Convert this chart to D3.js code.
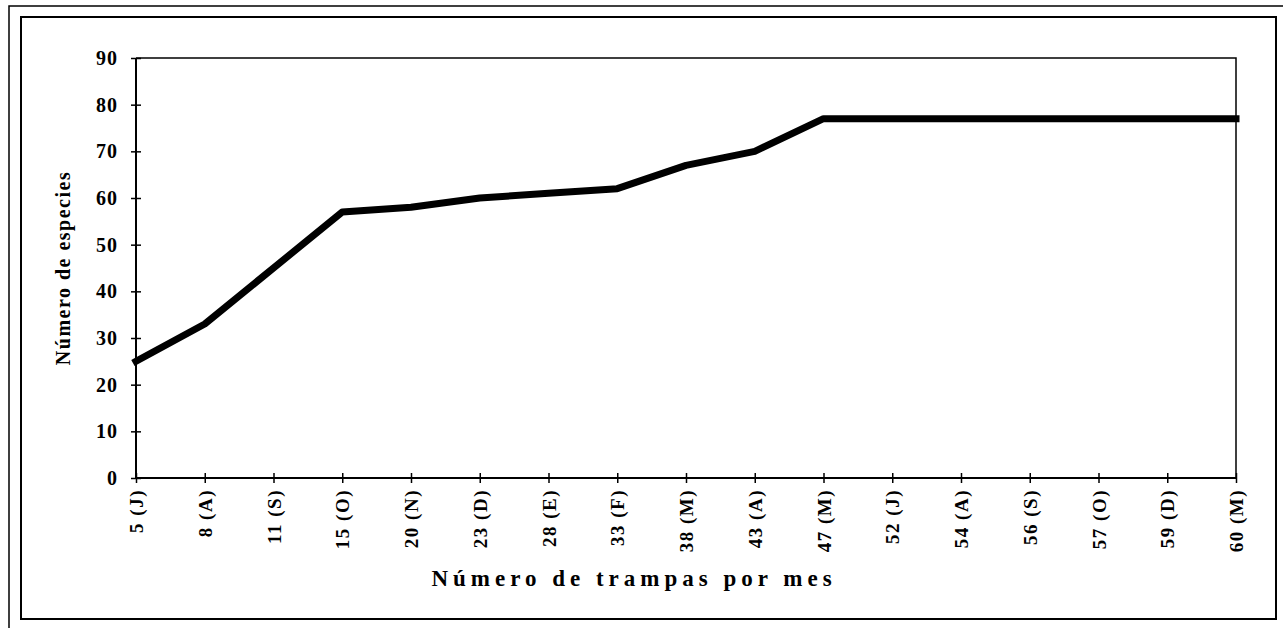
<!DOCTYPE html>
<html>
<head>
<meta charset="utf-8">
<script src="https://cdn.jsdelivr.net/npm/d3@7"></script>
<style>
    body { margin: 0; background: #fff; }
    text { font-family: "Liberation Serif", "Times New Roman", serif; font-weight: bold; fill: #000; }
</style>
</head>
<body>
<svg id="chart" width="1283" height="628"></svg>
<script>
// trampas acumuladas por mes (eje x)
var meses = ["5 (J)", "8 (A)", "11 (S)", "15 (O)", "20 (N)", "23 (D)", "28 (E)", "33 (F)",
    "38 (M)", "43 (A)", "47 (M)", "52 (J)", "54 (A)", "56 (S)", "57 (O)", "59 (D)", "60 (M)"];
// numero de especies acumuladas
var especies = [25, 33, 45, 57, 58, 60, 61, 62, 67, 70, 77, 77, 77, 77, 77, 77, 77];
var yTicks = [0, 10, 20, 30, 40, 50, 60, 70, 80, 90];

var svg = d3.select("#chart");

// plot box (no usar "top": choca con window.top)
var mLeft = 136, mRight = 1236, mTop = 58, mBottom = 478;

var x = d3.scalePoint().domain(meses).range([mLeft, mRight]);
var y = d3.scaleLinear().domain([0, 90]).range([mBottom, mTop]);

// marcos del scan
svg.append("rect")
    .attr("x", 9).attr("y", 6)
    .attr("width", 1300).attr("height", 640)
    .attr("fill", "none").attr("stroke", "#000").attr("stroke-width", 1.5);
svg.append("rect")
    .attr("x", 21).attr("y", 17)
    .attr("width", 1255).attr("height", 602)
    .attr("fill", "none").attr("stroke", "#000").attr("stroke-width", 2);

// caja del grafico (arriba y derecha)
svg.append("path")
    .attr("d", `M${mLeft},${mTop}H${mRight}V${mBottom}`)
    .attr("fill", "none").attr("stroke", "#000").attr("stroke-width", 1.5);

var gY = svg.append("g")
    .attr("transform", `translate(${mLeft},0)`)
    .call(d3.axisLeft(y).tickValues(yTicks).tickSize(5).tickPadding(13));
gY.selectAll(".tick line").attr("x1", 5).attr("x2", -5).attr("stroke-width", 1.5);
gY.select(".domain").attr("stroke-width", 2).attr("d", `M0,${mBottom}V${mTop}`);
gY.selectAll(".tick text")
    .style("font-size", "20px").style("letter-spacing", "1px")
    .style("font-family", "'Liberation Serif', serif").style("font-weight", "bold");

var gX = svg.append("g")
    .attr("transform", `translate(0,${mBottom})`)
    .call(d3.axisBottom(x).tickSize(5));
gX.selectAll(".tick line").attr("y1", -5).attr("y2", 5).attr("stroke-width", 1.5);
gX.select(".domain").attr("stroke-width", 2).attr("d", `M${mLeft},0H${mRight}`);
gX.selectAll(".tick text")
    .attr("transform", "rotate(-90)")
    .attr("x", -11).attr("y", 0).attr("dy", "0.35em")
    .attr("text-anchor", "end")
    .style("font-size", "19px").style("letter-spacing", "1.5px")
    .style("font-family", "'Liberation Serif', serif").style("font-weight", "bold");

// linea de especies
var line = d3.line()
    .x((d, i) => x(meses[i]))
    .y(d => y(d));

svg.append("path")
    .datum(especies)
    .attr("d", line)
    .attr("fill", "none")
    .attr("stroke", "#000")
    .attr("stroke-width", 7)
    .attr("stroke-linejoin", "round")
    .attr("stroke-linecap", "square");

// titulos
svg.append("text")
    .attr("x", 634).attr("y", 586)
    .attr("text-anchor", "middle")
    .style("font-size", "23px").style("letter-spacing", "5px")
    .text("Número de trampas por mes");

svg.append("text")
    .attr("transform", `translate(70,${(mTop + mBottom) / 2}) rotate(-90)`)
    .attr("text-anchor", "middle")
    .style("font-size", "20px").style("letter-spacing", "1.5px")
    .text("Número de especies");
</script>
</body>
</html>
